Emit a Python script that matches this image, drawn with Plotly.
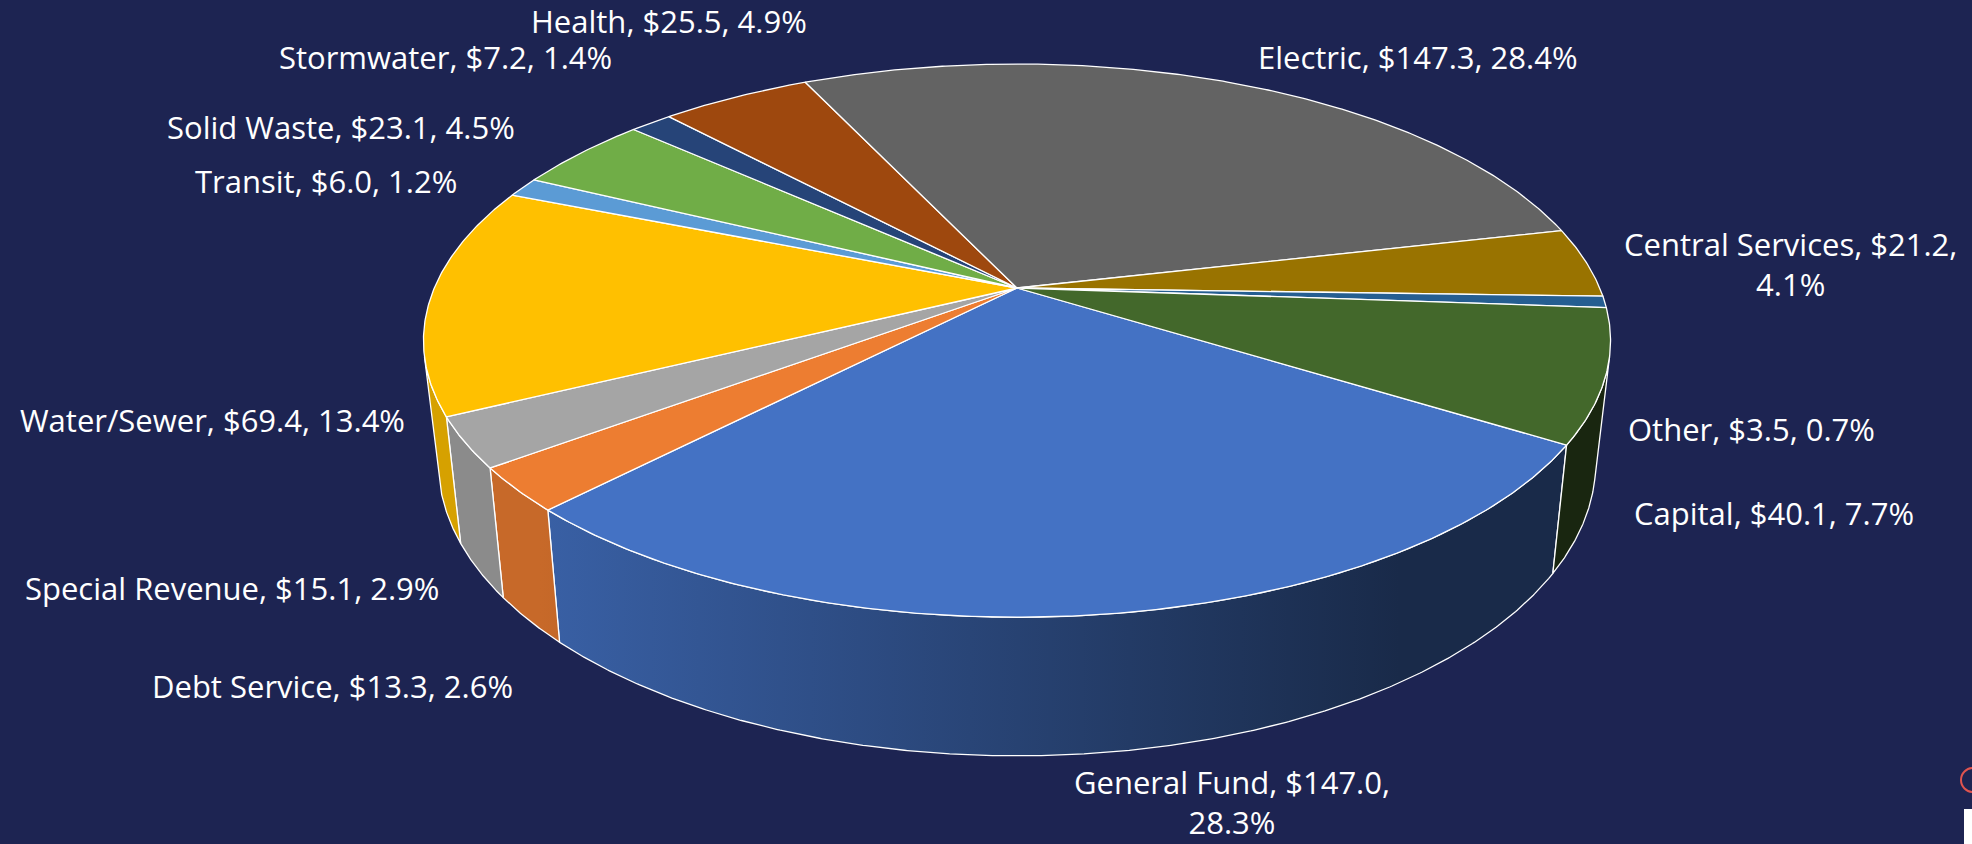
import numpy as np
import plotly.graph_objects as go

# ---------------- data ----------------
categories = ["General Fund", "Debt Service", "Special Revenue", "Water/Sewer",
              "Transit", "Solid Waste", "Stormwater", "Health", "Electric",
              "Central Services", "Other", "Capital"]
values = [147.0, 13.3, 15.1, 69.4, 6.0, 23.1, 7.2, 25.5, 147.3, 21.2, 3.5, 40.1]
colors = ["#4472C4", "#ED7D31", "#A5A5A5", "#FFC000", "#5B9BD5", "#70AD47",
          "#264478", "#9E480E", "#636363", "#997300", "#255E91", "#43682B"]

# ---------------- 3D pie geometry (perspective projection) ----------------
BG = "#1D2452"
W, Hpx = 1972, 844
CX, CY = 1017.0, 288.0        # apex of pie on screen
K = 0.1903                    # perspective factor
A = 582.7                     # horizontal radius scale
B = 266.6                     # vertical radius scale
DEPTH = 118.9                 # thickness
SHRINK = 0.025                # bottom face shrink
START = 122.0                 # angle of first slice (deg, clockwise from 12 o'clock)


def proj(theta_deg, z):
    t = np.radians(theta_deg)
    u, v = np.sin(t), np.cos(t)
    d = 1 + K * v
    s = 1 - SHRINK * z
    return CX + A * u * s / d, CY - B * v * s / d + DEPTH * z / d


def shade(hexcol, f):
    h = hexcol.lstrip("#")
    r, g, b = (int(h[i:i + 2], 16) for i in (0, 2, 4))
    return "rgb(%d,%d,%d)" % (round(r * f), round(g * f), round(b * f))


def visible(theta):
    e = 0.05
    x0, y0 = proj(theta, 0)
    x1, y1 = proj(theta, 1)
    xa, ya = proj(theta + e, 0)
    xb, yb = proj(theta - e, 0)
    tx, ty = xa - xb, ya - yb
    ex, ey = x1 - x0, y1 - y0
    return (tx * ey - ty * ex) < 0


vals = np.array(values, dtype=float)
total = vals.sum()
fracs = vals / total
bounds = START + 360.0 * np.concatenate([[0], np.cumsum(fracs)])

fig = go.Figure()

# ---- side walls ----
for i in range(len(values)):
    s, e = bounds[i], bounds[i + 1]
    n = max(3, int((e - s) / 0.25) + 1)
    th = np.linspace(s, e, n)
    vis = visible(th)
    if vis.sum() < 2:
        continue
    th = th[vis]
    xt, yt = proj(th, 0)
    xb, yb = proj(th[::-1], 1)
    xs = np.concatenate([xt, xb, xt[:1]])
    ys = np.concatenate([yt, yb, yt[:1]])
    c = colors[i]
    fig.add_trace(go.Scatter(
        x=xs, y=ys, mode="lines", fill="toself",
        fillcolor=shade(c, 0.6),
        fillgradient=dict(type="horizontal",
                          colorscale=[[0, shade(c, 0.84)], [1, shade(c, 0.37)]],
                          start=540, stop=1400),
        line=dict(color="white", width=1.3),
        hoverinfo="skip", showlegend=False))

# ---- top faces ----
for i in range(len(values)):
    s, e = bounds[i], bounds[i + 1]
    n = max(3, int((e - s) / 0.4) + 1)
    th = np.linspace(s, e, n)
    xa, ya = proj(th, 0)
    xs = np.concatenate([[CX], xa, [CX]])
    ys = np.concatenate([[CY], ya, [CY]])
    fig.add_trace(go.Scatter(
        x=xs, y=ys, mode="lines", fill="toself", fillcolor=colors[i],
        line=dict(color="white", width=1.3),
        hoverinfo="skip", showlegend=False,
        name=categories[i]))

# ---- data labels ----
label_xy = {
    "Health": (669, 21), "Stormwater": (445, 57), "Electric": (1418, 57),
    "Solid Waste": (341, 127), "Transit": (326, 181),
    "Central Services": (1790, 264), "Water/Sewer": (212, 420),
    "Other": (1751, 429), "Capital": (1774, 513),
    "Special Revenue": (232, 588), "Debt Service": (332, 686),
    "General Fund": (1232, 802),
}
wrapped = {"Central Services", "General Fund"}
for cat, val, fr in zip(categories, values, fracs):
    sep = ",<br>" if cat in wrapped else ", "
    txt = f"{cat}, ${val:.1f}{sep}{fr * 100:.1f}%"
    x, y = label_xy[cat]
    fig.add_annotation(x=x, y=y, xref="x", yref="y", text=txt, showarrow=False,
                       xanchor="center", yanchor="middle", align="center",
                       font=dict(family="Open Sans", size=31, color="white"))

# small UI artefact in bottom-right corner
fig.add_shape(type="circle", x0=1961, x1=1985, y0=768, y1=792, xref="x", yref="y",
              line=dict(color="#E0544F", width=2))
fig.add_shape(type="rect", x0=1964, x1=1973, y0=809, y1=845, xref="x", yref="y",
              fillcolor="white", line=dict(width=0))

fig.update_layout(
    width=W, height=Hpx, margin=dict(l=0, r=0, t=0, b=0),
    paper_bgcolor=BG, plot_bgcolor=BG,
    xaxis=dict(range=[0, W], visible=False, fixedrange=True),
    yaxis=dict(range=[Hpx, 0], visible=False, fixedrange=True),
    showlegend=False,
)

fig.write_html("out.html",
               config={"displayModeBar": False},
               post_script="document.body.style.margin='0px';document.body.style.overflow='hidden';")
